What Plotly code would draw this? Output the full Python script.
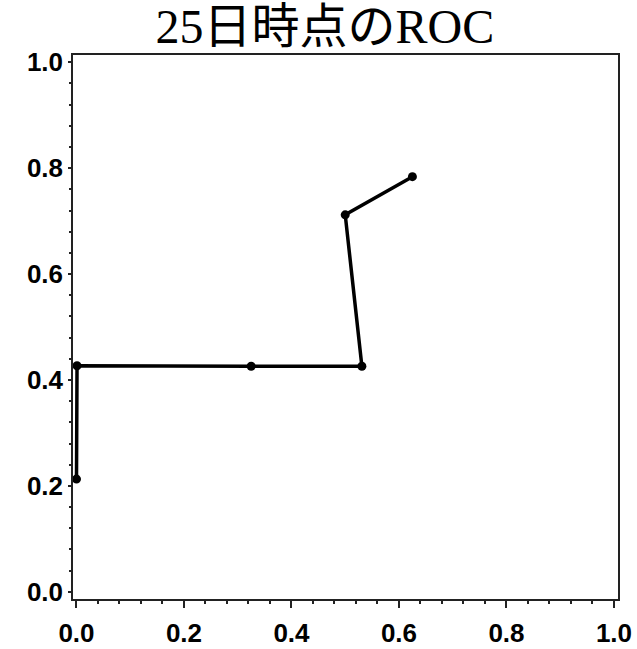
import plotly.graph_objects as go

fpr = [0.0, 0.001, 0.325, 0.531, 0.500, 0.625]
tpr = [0.213, 0.427, 0.426, 0.426, 0.712, 0.784]
tick_vals = [0.0, 0.2, 0.4, 0.6, 0.8, 1.0]
tick_text = ["0.0", "0.2", "0.4", "0.6", "0.8", "1.0"]
title_text = "25日時点のROC"

fig = go.Figure()
fig.add_trace(go.Scatter(
    x=fpr, y=tpr, mode="lines+markers",
    line=dict(color="black", width=3.5),
    marker=dict(color="black", size=9),
    showlegend=False,
))

tickfont = dict(family="Liberation Sans, Arial, sans-serif", size=26, color="black", weight="bold")

fig.update_layout(
    width=637, height=649,
    margin=dict(l=73, r=19, t=55, b=50),
    paper_bgcolor="white", plot_bgcolor="white",
    title=dict(text=title_text, x=0.51, xref="container", xanchor="center",
               y=0.959, yref="container", yanchor="middle",
               font=dict(family="Liberation Serif, Noto Sans CJK JP, serif", size=48, color="black")),
    xaxis=dict(range=[-0.0065, 1.0075], tickvals=tick_vals, ticktext=tick_text,
               showgrid=False, zeroline=False, showline=True, mirror=True, automargin=False,
               linecolor="#222", linewidth=1.5, ticks="outside", ticklen=7,
               tickwidth=1.5, tickcolor="#222", tickfont=tickfont,
               ticklabelstandoff=3,
               minor=dict(dtick=0.04, tick0=0, ticks="outside", ticklen=3,
                          tickwidth=1.5, tickcolor="#222", showgrid=False)),
    yaxis=dict(range=[-0.0135, 1.0138], tickvals=tick_vals, ticktext=tick_text,
               showgrid=False, zeroline=False, showline=True, mirror=True, automargin=False,
               linecolor="#222", linewidth=1.5, ticks="outside", ticklen=3,
               tickwidth=1.5, tickcolor="#222", tickfont=tickfont,
               ticklabelstandoff=0,
               minor=dict(dtick=0.04, tick0=0, ticks="outside", ticklen=2,
                          tickwidth=1.5, tickcolor="#222", showgrid=False)),
)

fig.write_html("out.html", config={"displayModeBar": False},
               post_script="document.body.style.margin='0';")
